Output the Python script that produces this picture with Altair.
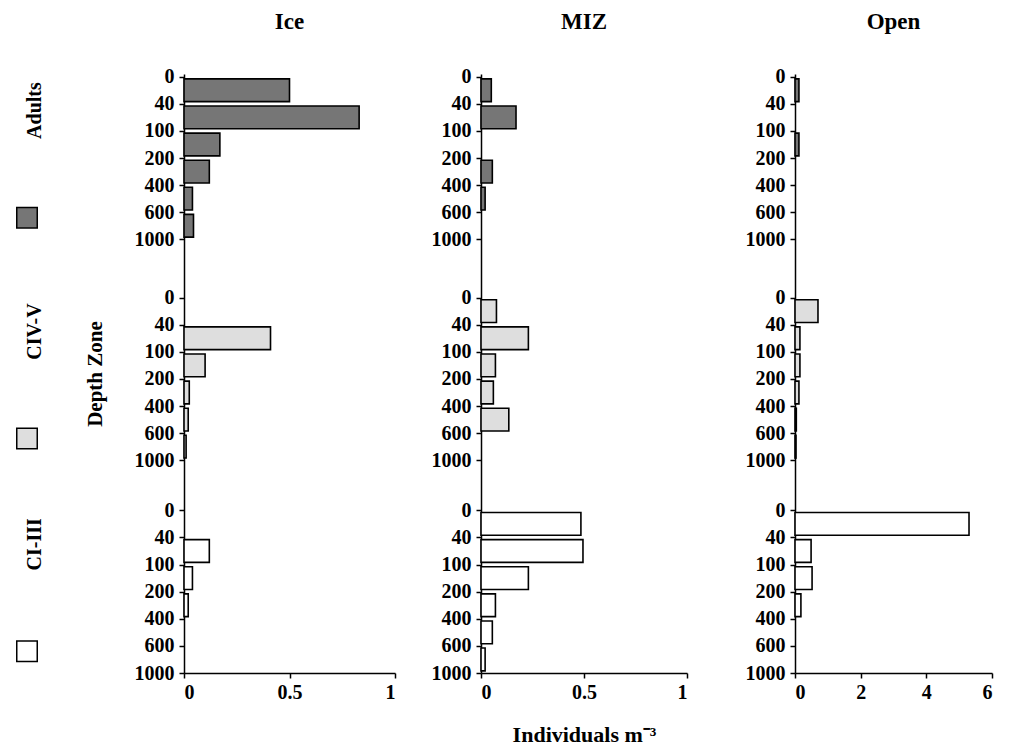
import altair as alt
import pandas as pd

# ---------------- data ----------------
columns = ["Ice", "MIZ", "Open"]
stages = ["Adults", "CIV-V", "CI-III"]
depth_labels = ["0", "40", "100", "200", "400", "600", "1000"]

# values for the six depth zones 0-40, 40-100, 100-200, 200-400, 400-600, 600-1000
ice_adults = [0.50, 0.83, 0.17, 0.12, 0.04, 0.045]
ice_civ_v = [0.0, 0.41, 0.10, 0.025, 0.02, 0.01]
ice_ci_iii = [0.0, 0.12, 0.04, 0.02, 0.0, 0.0]

miz_adults = [0.05, 0.17, 0.0, 0.055, 0.02, 0.0]
miz_civ_v = [0.075, 0.23, 0.07, 0.06, 0.135, 0.0]
miz_ci_iii = [0.485, 0.495, 0.23, 0.07, 0.055, 0.02]

open_adults = [0.12, 0.0, 0.12, 0.0, 0.0, 0.0]
open_civ_v = [0.70, 0.15, 0.15, 0.12, 0.04, 0.03]
open_ci_iii = [5.3, 0.49, 0.52, 0.18, 0.0, 0.0]

x_max = [1, 1, 6]
x_ticks = [[0, 0.5, 1], [0, 0.5, 1], [0, 2, 4, 6]]

stage_fill = ["#767676", "#dedede", "#ffffff"]

# ---------------- layout ----------------
FONT = "Liberation Serif"
group_offset = {"Adults": 0.0, "CIV-V": 8.15, "CI-III": 16.0}
Y_DOMAIN = [-0.1, 22.0]
H = 599
widths = [211, 206, 197]

fill_scale = alt.Scale(domain=stages, range=stage_fill)
y_scale = alt.Scale(domain=Y_DOMAIN, reverse=True, nice=False, zero=False)

tick_vals = [group_offset[s] + k for s in stages for k in range(len(depth_labels))]
label_arr = "[" + ",".join("'%s'" % d for d in depth_labels) + "]"
label_expr = (label_arr + "[round(datum.value >= 16 ? datum.value - 16 : "
              "(datum.value >= 8 ? datum.value - 8.15 : datum.value))]")


def panel_df(series):
    rows = []
    for s, vals in zip(stages, series):
        for i, v in enumerate(vals):
            if v > 0:
                rows.append(dict(stage=s, value=v, zero=0.0,
                                 top=group_offset[s] + i + 0.08,
                                 bot=group_offset[s] + i + 0.92))
    return pd.DataFrame(rows)


def column_chart(idx, series):
    df = panel_df(series)
    y_axis = alt.Axis(values=tick_vals, labelExpr=label_expr,
                      title="Depth Zone" if idx == 0 else None,
                      titleFont=FONT, titleFontSize=21, titleFontWeight="bold",
                      titleColor="black", titlePadding=29,
                      labelFont=FONT, labelFontWeight="bold", labelFontSize=20,
                      labelColor="black", labelPadding=5,
                      domainColor="black", domainWidth=1.5,
                      tickColor="black", tickWidth=1.5, tickSize=5, grid=False)
    x_axis = alt.Axis(values=x_ticks[idx], format="~g",
                      title="Individuals m⁻³" if idx == 1 else None,
                      titleFont=FONT, titleFontSize=22, titleFontWeight="bold",
                      titleColor="black", titlePadding=22,
                      labelFont=FONT, labelFontWeight="bold", labelFontSize=20,
                      labelColor="black", labelPadding=4,
                      domainColor="black", domainWidth=1.5,
                      tickColor="black", tickWidth=1.5, tickSize=5, grid=False)
    return alt.Chart(df).mark_bar(stroke="black", strokeWidth=1.6).encode(
        x=alt.X("value:Q", scale=alt.Scale(domain=[0, x_max[idx]], nice=False), axis=x_axis),
        x2="zero:Q",
        y=alt.Y("top:Q", scale=y_scale, axis=y_axis),
        y2="bot:Q",
        fill=alt.Fill("stage:N", scale=fill_scale, legend=None),
    ).properties(
        width=widths[idx], height=H,
        title=alt.TitleParams(columns[idx], font=FONT, fontSize=23, fontWeight="bold",
                              color="black", frame="group", anchor="middle", offset=33),
    )


# legend column at the left
legend_df = pd.DataFrame({
    "stage": stages,
    "label_pos": [group_offset[s] + 1.25 for s in stages],
    "square_pos": [group_offset[s] + 5.2 for s in stages],
})
legend_text = alt.Chart(legend_df).mark_text(
    angle=270, font=FONT, fontSize=20, fontWeight="bold", color="black"
).encode(
    x=alt.value(21),
    y=alt.Y("label_pos:Q", scale=y_scale, axis=None),
    text="stage:N",
)
legend_sq = alt.Chart(legend_df).mark_square(
    size=420, stroke="black", strokeWidth=1.5, opacity=1
).encode(
    x=alt.value(13),
    y=alt.Y("square_pos:Q", scale=y_scale, axis=None),
    fill=alt.Fill("stage:N", scale=fill_scale, legend=None),
)
legend_chart = alt.layer(legend_sq, legend_text).properties(
    width=34, height=H,
    title=alt.TitleParams(" ", fontSize=23, offset=33),
)

all_series = [
    [ice_adults, ice_civ_v, ice_ci_iii],
    [miz_adults, miz_civ_v, miz_ci_iii],
    [open_adults, open_civ_v, open_ci_iii],
]
panels = [column_chart(i, s) for i, s in enumerate(all_series)]

left = alt.hconcat(legend_chart, panels[0], spacing=36)
mid = alt.hconcat(left, panels[1], spacing=35)
chart = alt.hconcat(mid, panels[2], spacing=57).properties(
    padding={"top": 2, "left": 5, "right": 5, "bottom": 5}
).configure(background="white").configure_view(stroke="transparent", strokeWidth=0)

chart.save("out.html", embed_options={"renderer": "svg", "actions": False})
